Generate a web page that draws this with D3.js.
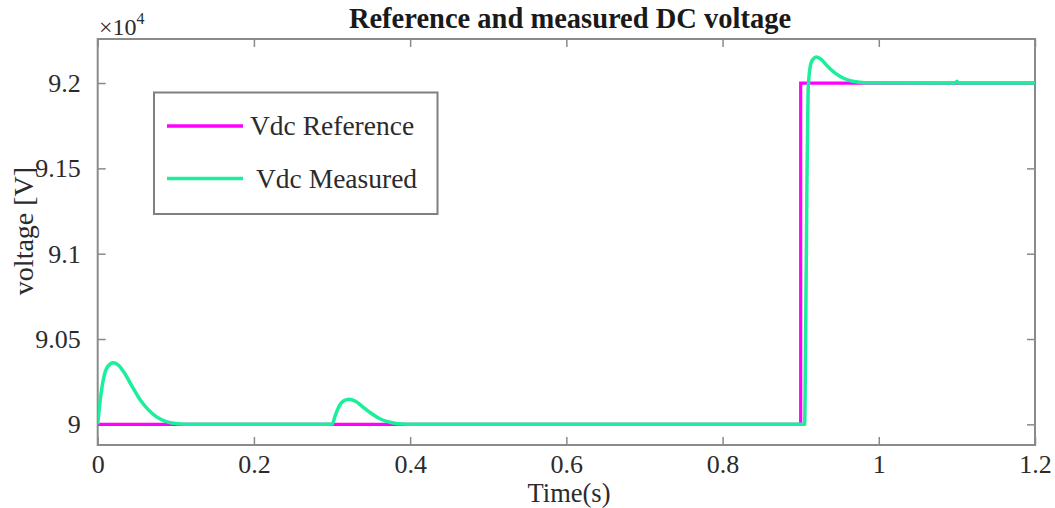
<!DOCTYPE html>
<html>
<head>
<meta charset="utf-8">
<script src="https://cdn.jsdelivr.net/npm/d3@7"></script>
<style>
  html, body { margin: 0; padding: 0; background: #fff; }
  svg, svg text { font-family: "Liberation Serif", "Times New Roman", serif; }
</style>
</head>
<body>
<div id="chart"></div>
<script>
// reference voltage (step at 0.9 s)
const refTime = [0, 0.9, 0.9, 1.2];
const refVolt = [90000, 90000, 92000, 92000];

// measured voltage
const measTime = [0, 0.004, 0.008, 0.013, 0.02, 0.027, 0.035, 0.045, 0.055, 0.065, 0.075, 0.085, 0.095, 0.105, 0.115,
  0.3, 0.304, 0.309, 0.315, 0.322, 0.33, 0.34, 0.35, 0.36, 0.37, 0.38, 0.39, 0.4,
  0.905, 0.9065, 0.908, 0.9095, 0.912, 0.915, 0.9205, 0.927, 0.935, 0.945, 0.955, 0.965, 0.975, 0.985,
  1.098, 1.1, 1.102, 1.2];
const measVolt = [90000, 90170, 90280, 90340, 90361, 90345, 90295, 90215, 90140, 90085, 90045, 90020, 90008, 90002, 90000,
  90000, 90050, 90105, 90138, 90147, 90135, 90100, 90065, 90036, 90017, 90007, 90002, 90000,
  90000, 90600, 91400, 91950, 92090, 92135, 92153, 92135, 92095, 92055, 92028, 92012, 92005, 92001,
  92000, 92010, 92000, 92000];

const xTicks = [0, 0.2, 0.4, 0.6, 0.8, 1, 1.2];
const yTicks = [90000, 90500, 91000, 91500, 92000];

const W = 1055, H = 508;
const margin = { top: 39, right: 20, bottom: 63, left: 97.7 };
const innerW = W - margin.left - margin.right;
const innerH = H - margin.top - margin.bottom;

const svg = d3.select('#chart').append('svg')
  .attr('width', W).attr('height', H);

const mg = svg.append('g')
  .attr('transform', `translate(${margin.left},${margin.top})`);

const x = d3.scaleLinear().domain([0, 1.2]).range([0, innerW]);
const y = d3.scaleLinear().domain([89879, 92258]).range([innerH, 0]);

const axisColor = '#8a8a8a';
const textColor = '#2b2b2b';

// axes (MATLAB style: inward ticks, box on)
function styleAxis(g) {
  g.attr('font-family', null);
  g.select('.domain').remove();
  g.selectAll('.tick line').attr('stroke', axisColor).attr('stroke-width', 1.5);
  g.selectAll('.tick text')
    .attr('fill', textColor)
    .style('font-family', '"Liberation Serif", "Times New Roman", serif')
    .style('font-size', '26px');
}
mg.append('g')
  .attr('transform', `translate(0,${innerH})`)
  .call(d3.axisBottom(x).tickValues(xTicks).tickFormat(d3.format('')).tickSizeInner(-8).tickPadding(10))
  .call(styleAxis);
mg.append('g')
  .call(d3.axisTop(x).tickValues(xTicks).tickFormat('').tickSizeInner(-8))
  .call(styleAxis);
mg.append('g')
  .call(d3.axisLeft(y).tickValues(yTicks).tickFormat(d => d / 1e4).tickSizeInner(-8).tickPadding(17))
  .call(styleAxis);
mg.append('g')
  .attr('transform', `translate(${innerW},0)`)
  .call(d3.axisRight(y).tickValues(yTicks).tickFormat('').tickSizeInner(-8))
  .call(styleAxis);

mg.append('rect')
  .attr('width', innerW).attr('height', innerH)
  .attr('fill', 'none').attr('stroke', axisColor).attr('stroke-width', 2);

// lines
const line = d3.line().x(d => x(d[0])).y(d => y(d[1]));
svg.append('clipPath').attr('id', 'plotClip')
  .append('rect').attr('width', innerW).attr('height', innerH);

const linesGroup = mg.append('g').attr('clip-path', 'url(#plotClip)');
linesGroup.append('path')
  .datum(refTime.map((t, i) => [t, refVolt[i]]))
  .attr('d', line)
  .attr('fill', 'none').attr('stroke', '#ff00ff').attr('stroke-width', 3.2);
linesGroup.append('path')
  .datum(measTime.map((t, i) => [t, measVolt[i]]))
  .attr('d', line.curve(d3.curveMonotoneX))
  .attr('fill', 'none').attr('stroke', '#1bef9c').attr('stroke-width', 3.5)
  .attr('stroke-linejoin', 'round');

// exponent label
const expo = svg.append('text')
  .attr('x', 99).attr('y', 35)
  .attr('fill', textColor).attr('font-size', 24);
expo.append('tspan').text('×10');
expo.append('tspan').attr('font-size', 16).attr('dy', -11).text('4');

// title
svg.append('text')
  .attr('x', 570).attr('y', 28)
  .attr('text-anchor', 'middle')
  .attr('font-weight', 'bold').attr('font-size', 28.5)
  .attr('fill', '#1a1a1a')
  .text('Reference and measured DC voltage');

// axis labels
svg.append('text')
  .attr('x', 569).attr('y', 502)
  .attr('text-anchor', 'middle')
  .attr('font-size', 26.5).attr('fill', textColor)
  .text('Time(s)');
svg.append('text')
  .attr('transform', 'translate(33,231) rotate(-90)')
  .attr('text-anchor', 'middle')
  .attr('font-size', 28).attr('fill', textColor)
  .text('voltage [V]');

// legend
const legend = svg.append('g');
legend.append('rect')
  .attr('x', 154).attr('y', 92.5).attr('width', 283.5).attr('height', 121.5)
  .attr('fill', '#fff').attr('stroke', '#808080').attr('stroke-width', 2);
const legendItems = [
  { name: 'Vdc Reference', color: '#ff00ff', dx: 0 },
  { name: 'Vdc Measured', color: '#1bef9c', dx: 6 }
];
legendItems.forEach((item, i) => {
  const ly = 126 + i * 52.5;
  legend.append('line')
    .attr('x1', 167).attr('x2', 243).attr('y1', ly).attr('y2', ly)
    .attr('stroke', item.color).attr('stroke-width', 3.5);
  legend.append('text')
    .attr('x', 250 + item.dx).attr('y', ly + 9)
    .attr('font-size', 27.5).attr('fill', textColor)
    .text(item.name);
});
</script>
</body>
</html>
